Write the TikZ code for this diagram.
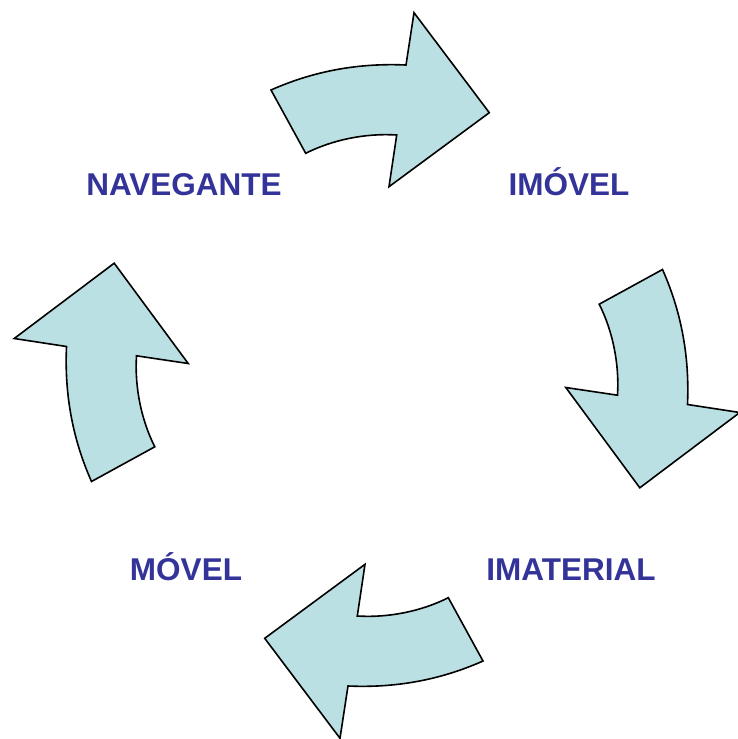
\documentclass[tikz,border=0pt]{standalone}
\usepackage{fontspec}
\setmainfont{Liberation Sans}
\definecolor{arrowfill}{RGB}{187,224,227}
\definecolor{labelblue}{RGB}{51,51,153}
\tikzset{
  cyclearrow/.style={draw=black, fill=arrowfill, line width=1.6pt, line join=miter},
  steplabel/.style={anchor=base, text=labelblue, font=\fontsize{31.5}{31.5}\selectfont\bfseries, inner sep=0pt}
}
\begin{document}
\begin{tikzpicture}[x=1pt,y=-1pt]
\useasboundingbox (0,0) rectangle (737,739);
\coordinate (c) at (377,375.5);
\foreach \ang in {0,-90,180,90}{
  \begin{scope}[rotate around={\ang:(c)}]
    \path[cyclearrow] (271,90) .. controls (316,70) and (361,63) .. (406,65)
      -- (414,12.7) -- (489.3,112.7) -- (389,186.7) -- (396.7,135)
      .. controls (365,133) and (332,140) .. (305.7,153.3) -- cycle;
  \end{scope}
}
\node[steplabel] (nav) at (184,195) {NAVEGANTE};
\node[steplabel] (imo) at (569,195) {IMÓVEL};
\node[steplabel] (ima) at (571,580) {IMATERIAL};
\node[steplabel] (mov) at (186,580) {MÓVEL};
\end{tikzpicture}
\end{document}
